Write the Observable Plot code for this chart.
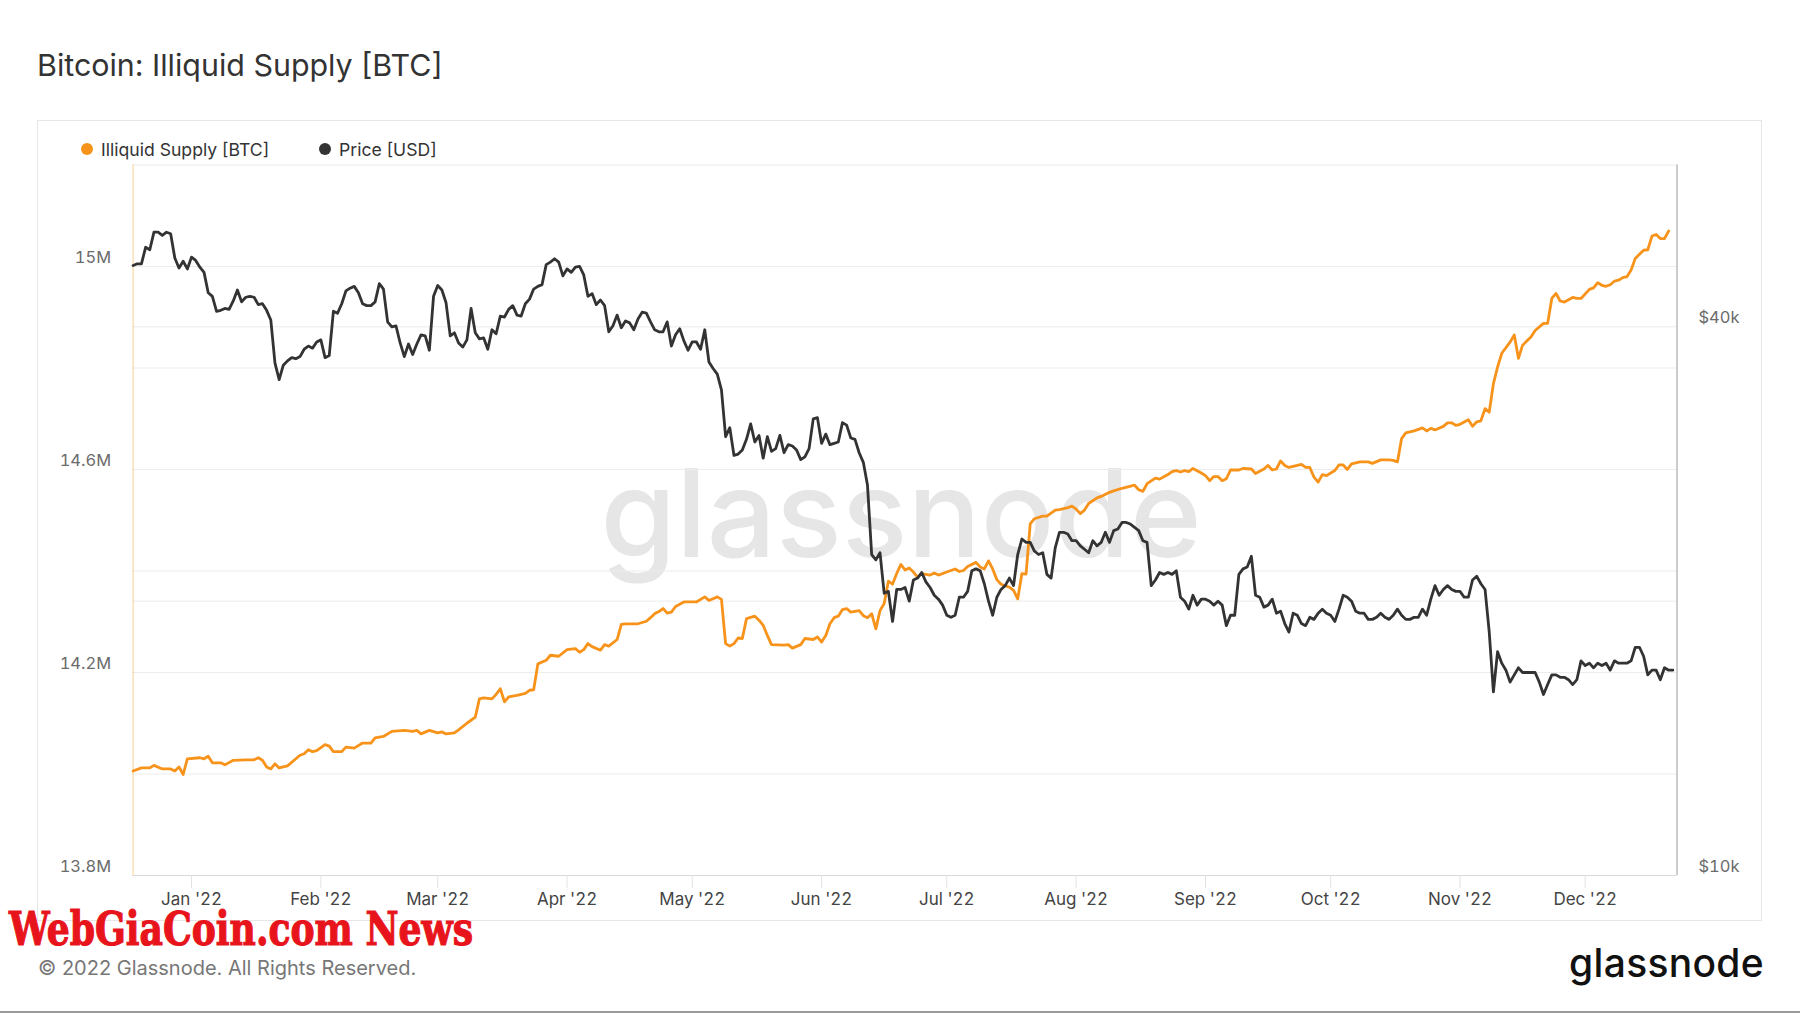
<!DOCTYPE html>
<html>
<head>
<meta charset="utf-8">
<script src="https://cdn.jsdelivr.net/npm/d3@7"></script>
<script src="https://cdn.jsdelivr.net/npm/@observablehq/plot@0.6"></script>
<style>
html,body{margin:0;padding:0;background:#fff;}
#page{position:relative;width:1800px;height:1013px;overflow:hidden;font-family:Inter,"Noto Sans",sans-serif;color:#333;}
.abs{position:absolute;line-height:1;white-space:nowrap;}
#title{left:37px;top:49.5px;font-size:30.4px;color:#333;}
#card{position:absolute;left:37px;top:120px;width:1725px;height:801px;border:1px solid #e6e6e6;box-sizing:border-box;}
.dot{position:absolute;width:12px;height:12px;border-radius:50%;}
.leg{font-size:17.6px;top:140.5px;color:#333;}
#chart{position:absolute;left:40px;top:162px;}
#copy{left:38px;top:958px;font-size:20px;color:#777;}
#logo{right:36px;top:943px;font-size:39px;font-weight:500;color:#111;letter-spacing:0.3px;}
#wm{left:9px;top:912px;line-height:0.75;font-family:"DejaVu Serif","DejaVu Serif Condensed",serif;font-weight:bold;font-size:46px;color:#e8141c;-webkit-text-stroke:1.2px #e8141c;transform:scaleX(0.786);transform-origin:0 0;}
#bottomline{position:absolute;left:0;top:1011px;width:1800px;height:2px;background:#9a9a9a;}
</style>
</head>
<body>
<div id="page">
  <div id="title" class="abs">Bitcoin: Illiquid Supply [BTC]</div>
  <div id="card"></div>
  <div class="dot" style="left:81px;top:143px;background:#f7931a"></div>
  <div class="abs leg" style="left:101px">Illiquid Supply [BTC]</div>
  <div class="dot" style="left:319px;top:143px;background:#333"></div>
  <div class="abs leg" style="left:339px">Price [USD]</div>
  <div id="chart"></div>
  <div id="copy" class="abs">© 2022 Glassnode. All Rights Reserved.</div>
  <div id="logo" class="abs">glassnode</div>
  <div id="wm" class="abs">WebGiaCoin.com News</div>
  <div id="bottomline"></div>
</div>
<script>
// ---------- data ----------
const seriesStart = "2021-12-18";   // first day of both series
const seriesEnd = "2022-12-23";     // end of the x domain

// BTC price, daily, in thousand USD (Dec 18 2021 ... Dec 22 2022)
const priceK = [
  46.7,46.9,46.9,48.9,48.6,50.8,50.8,50.4,50.8,50.6,47.6,46.4,47.2,46.3,
  47.7,47.3,46.5,45.9,43.6,43.2,41.6,41.7,41.9,41.8,42.7,43.9,42.6,43.1,43.2,43.1,42.3,42.4,41.7,40.7,36.5,35.0,36.3,36.7,37.0,36.9,37.1,37.8,38.1,37.9,38.5,
  38.7,37.0,37.2,41.6,41.4,42.4,43.8,44.1,44.3,43.6,42.4,42.2,42.2,42.6,44.6,44.0,40.5,40.0,40.1,38.4,37.1,38.3,37.3,38.3,39.2,39.1,37.7,43.2,
  44.4,43.9,42.5,39.1,39.4,38.4,38.0,38.7,41.9,39.4,38.8,38.9,37.8,39.7,39.3,41.1,41.0,41.8,42.2,41.2,41.1,42.4,42.9,44.0,44.3,44.5,46.8,47.1,47.5,47.1,45.5,
  46.3,45.9,46.5,46.6,45.6,43.2,43.5,42.3,42.8,42.2,39.5,40.1,41.2,39.9,40.6,40.4,39.7,40.8,41.5,41.4,40.5,39.7,39.5,39.5,40.5,38.1,39.2,39.8,38.6,37.7,
  38.5,38.5,37.8,39.7,36.6,36.0,35.5,34.1,30.3,31.0,28.9,29.0,29.3,30.1,31.3,29.9,30.4,28.7,30.3,29.2,29.4,30.4,29.1,29.7,29.6,29.3,28.6,28.8,29.4,31.7,31.8,
  29.8,30.5,29.7,29.8,29.9,31.4,31.2,30.2,30.1,29.1,28.4,26.8,22.5,22.2,22.6,20.4,20.5,19.0,20.6,20.6,20.7,20.0,21.1,21.2,21.5,21.0,20.7,20.3,20.1,19.8,
  19.3,19.2,19.3,20.2,20.2,20.5,21.6,21.7,21.6,20.9,20.0,19.3,20.2,20.6,20.8,21.2,20.8,22.5,23.4,23.2,23.2,22.7,22.5,22.6,21.4,21.2,22.9,23.8,23.8,23.7,23.3,
  23.3,23.0,22.8,22.6,23.3,23.0,23.2,23.8,23.2,23.9,24.0,24.4,24.4,24.3,24.1,23.9,23.3,23.2,20.8,21.1,21.5,21.4,21.5,21.4,21.6,20.2,20.0,19.6,20.3,19.8,20.1,
  20.1,20.0,19.8,20.0,19.8,18.8,19.3,19.3,21.4,21.7,21.8,22.4,20.3,20.2,19.7,19.8,20.1,19.4,19.5,18.9,18.5,19.4,19.3,18.9,18.8,19.2,19.1,19.4,19.6,19.4,
  19.3,19.0,19.6,20.3,20.2,20.0,19.5,19.4,19.4,19.1,19.1,19.2,19.4,19.2,19.1,19.3,19.6,19.3,19.1,19.1,19.2,19.2,19.6,19.3,20.1,20.8,20.3,20.6,20.8,20.6,20.5,
  20.5,20.2,20.2,21.1,21.3,20.9,20.6,18.5,15.9,17.6,17.1,16.8,16.3,16.6,16.9,16.7,16.7,16.7,16.7,16.3,15.8,16.2,16.6,16.6,16.5,16.5,16.4,16.2,16.4,17.2,
  17.0,17.1,16.9,17.1,17.0,17.1,16.8,17.2,17.1,17.1,17.1,17.2,17.8,17.8,17.4,16.6,16.8,16.8,16.4,16.9,16.8,16.8
];

// Illiquid supply readings: day offset from seriesStart, value in million BTC
const supplyDay = [0,2,4,5,7,9,10,11,12,13,16,17,18,19,21,22,24,27,29,30,31,32,33,34,35,37,40,41,42,43,44,46,47,48,50,51,53,55,57,58,60,62,65,67,68,69,71,73,74,75,77,78,80,82,83,84,86,87,88,89,90,92,94,95,96,97,99,100,102,104,106,107,108,109,110,112,113,114,116,117,118,121,123,124,125,126,127,128,129,130,132,135,137,138,140,141,142,143,144,145,146,147,149,150,151,152,153,156,157,158,160,161,163,164,165,166,167,168,169,170,171,172,174,175,176,177,178,179,180,181,182,183,184,185,186,187,188,189,191,192,193,195,197,198,199,200,202,203,204,205,206,207,208,210,211,212,213,214,215,216,218,219,221,222,224,225,226,227,228,229,231,232,234,235,237,240,241,242,243,245,246,248,249,250,251,252,253,254,256,257,258,259,260,261,262,263,265,266,268,269,271,272,273,274,275,276,277,279,280,281,282,283,284,285,286,288,289,290,291,292,294,296,297,299,301,302,303,304,305,307,309,310,311,312,314,315,316,317,318,320,321,322,323,324,325,326,327,328,330,331,332,333,335,336,338,339,340,341,342,343,345,346,347,349,350,351,352,353,354,355,356,357,358,359,360,361,362,363,364,365,366,367,368];
const supplyM = [14.006,14.012,14.012,14.017,14.010,14.010,14.006,14.014,13.999,14.030,14.032,14.030,14.035,14.022,14.022,14.018,14.027,14.028,14.028,14.032,14.027,14.014,14.010,14.020,14.012,14.016,14.037,14.040,14.048,14.044,14.046,14.058,14.055,14.044,14.044,14.053,14.051,14.061,14.061,14.071,14.074,14.084,14.086,14.084,14.086,14.079,14.086,14.081,14.083,14.079,14.081,14.087,14.100,14.112,14.148,14.150,14.148,14.157,14.168,14.142,14.152,14.155,14.159,14.165,14.166,14.217,14.224,14.234,14.232,14.245,14.247,14.240,14.245,14.257,14.251,14.244,14.255,14.252,14.265,14.295,14.296,14.296,14.301,14.308,14.316,14.320,14.326,14.317,14.319,14.330,14.339,14.339,14.349,14.342,14.349,14.344,14.257,14.252,14.257,14.268,14.267,14.306,14.311,14.303,14.293,14.273,14.255,14.254,14.255,14.248,14.255,14.267,14.265,14.270,14.260,14.273,14.296,14.308,14.311,14.324,14.326,14.319,14.322,14.312,14.308,14.316,14.286,14.322,14.336,14.380,14.374,14.395,14.413,14.402,14.406,14.398,14.388,14.395,14.392,14.396,14.392,14.398,14.404,14.399,14.401,14.409,14.417,14.408,14.404,14.420,14.404,14.383,14.374,14.368,14.362,14.345,14.395,14.394,14.493,14.503,14.508,14.508,14.520,14.521,14.525,14.528,14.522,14.513,14.520,14.533,14.544,14.547,14.555,14.558,14.563,14.569,14.560,14.557,14.572,14.583,14.581,14.590,14.596,14.598,14.595,14.598,14.596,14.602,14.593,14.588,14.578,14.586,14.586,14.578,14.582,14.599,14.599,14.602,14.601,14.592,14.601,14.608,14.599,14.601,14.617,14.608,14.604,14.608,14.610,14.604,14.604,14.585,14.575,14.590,14.588,14.598,14.609,14.609,14.600,14.611,14.615,14.615,14.612,14.619,14.619,14.618,14.615,14.661,14.672,14.676,14.682,14.676,14.681,14.678,14.685,14.692,14.692,14.687,14.689,14.698,14.685,14.694,14.696,14.720,14.713,14.769,14.802,14.829,14.851,14.865,14.819,14.845,14.861,14.874,14.888,14.888,14.937,14.947,14.932,14.930,14.939,14.937,14.937,14.955,14.958,14.968,14.963,14.961,14.964,14.971,14.973,14.978,14.980,14.993,15.016,15.024,15.032,15.033,15.060,15.063,15.055,15.055,15.070];

// axes
const supplyDomainM = [13.8, 15.2];
const supplyTickM = [13.8, 14.2, 14.6, 15.0];
const supplyGridM = [13.8, 14.0, 14.2, 14.4, 14.6, 14.8, 15.0, 15.2];
const priceDomainK = [10, 60.2];
const priceTickK = [10, 40];
const priceGridK = [20, 40];
const monthTicks = ["2022-01-01","2022-02-01","2022-03-01","2022-04-01","2022-05-01","2022-06-01","2022-07-01","2022-08-01","2022-09-01","2022-10-01","2022-11-01","2022-12-01"];

// ---------- tables ----------
const DAY = 864e5;
const t0 = new Date(seriesStart + "T00:00:00Z");
const priceRows = priceK.map((v, i) => ({date: new Date(+t0 + i * DAY), price: v * 1000}));
const supplyRows = supplyDay.map((d, i) => ({date: new Date(+t0 + d * DAY), supply: supplyM[i] * 1e6}));

// price (log) mapped onto the supply scale for the secondary axis
const priceToY = d3.scaleLog().domain(priceDomainK.map(d => d * 1000)).range(supplyDomainM.map(d => d * 1e6));

const chart = Plot.plot({
  width: 1718,
  height: 756,
  marginLeft: 92.6,
  marginRight: 81.5,
  marginTop: 2.5,
  marginBottom: 43,
  style: {fontFamily: "Inter, 'Noto Sans', sans-serif", fontSize: "17px", background: "transparent", overflow: "visible"},
  x: {type: "utc", domain: [t0, new Date(seriesEnd + "T00:00:00Z")]},
  y: {domain: supplyDomainM.map(d => d * 1e6)},
  marks: [
    Plot.text(["glassnode"], {frameAnchor: "middle", text: d => d, fontSize: 122, fontWeight: 500, fill: "#e6e6e6", dx: -4, dy: -2}),
    Plot.gridY(supplyGridM.map(d => d * 1e6), {stroke: "#ececec", strokeOpacity: 1}),
    Plot.gridY(priceGridK.map(d => priceToY(d * 1000)), {stroke: "#ececec", strokeOpacity: 1}),
    Plot.ruleY([supplyDomainM[0] * 1e6], {stroke: "#d9d9d9"}),
    Plot.ruleX([t0], {stroke: "#f7931a", strokeOpacity: 0.45}),
    Plot.ruleX([new Date(seriesEnd + "T00:00:00Z")], {stroke: "#9a9a9a"}),
    Plot.axisX(monthTicks.map(s => new Date(s + "T00:00:00Z")), {
      tickFormat: d3.utcFormat("%b '%y"), tickSize: 13, tickPadding: 4,
      stroke: "#e3e3e3", fill: "#444", label: null, fontSize: 17
    }),
    Plot.axisY(supplyTickM.map(d => d * 1e6), {
      anchor: "left", tickSize: 0, tickPadding: 22, dy: -9,
      tickFormat: d => (d / 1e6) + "M", fill: "#6b6b6b", label: null, fontSize: 16.5
    }),
    Plot.axisY(priceTickK.map(d => priceToY(d * 1000)), {
      anchor: "right", tickSize: 0, tickPadding: 21.5, dy: -9,
      tickFormat: v => "$" + Math.round(priceToY.invert(v) / 1000) + "k", fill: "#6b6b6b", label: null, fontSize: 16.5
    }),
    Plot.line(supplyRows, {x: "date", y: "supply", stroke: "#f7931a", strokeWidth: 2.8, strokeLinejoin: "round"}),
    Plot.line(priceRows, {x: "date", y: d => priceToY(d.price), stroke: "#333", strokeWidth: 2.8, strokeLinejoin: "round"})
  ]
});
document.getElementById("chart").appendChild(chart);
</script>
</body>
</html>
